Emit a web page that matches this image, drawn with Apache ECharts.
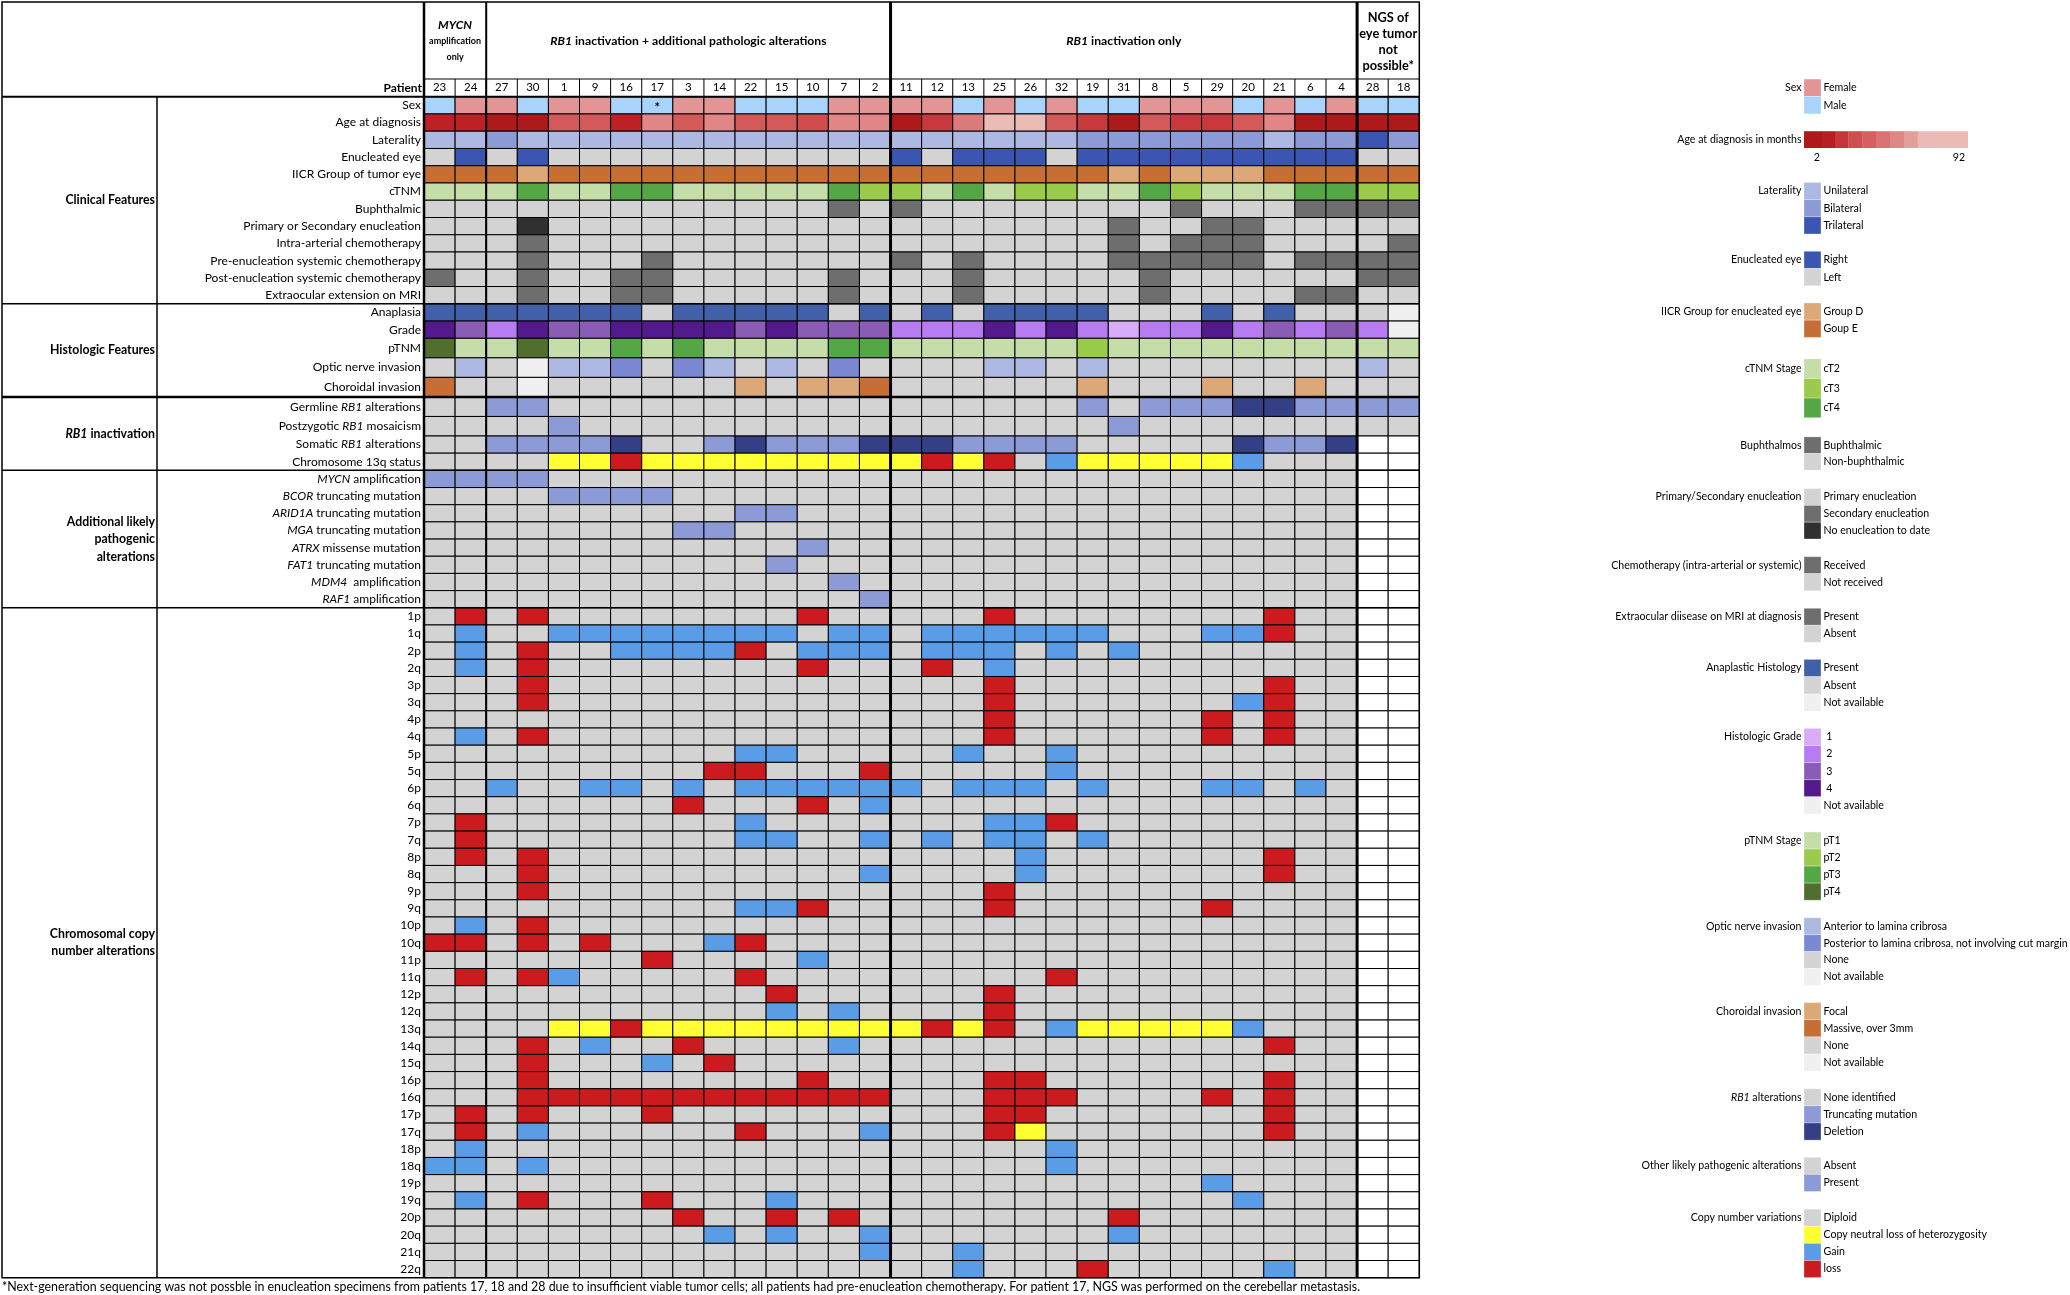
<!DOCTYPE html>
<html><head><meta charset="utf-8">
<script src="https://cdn.jsdelivr.net/npm/echarts@6/dist/echarts.min.js"></script>
<style>html,body{margin:0;padding:0;background:#fff}#c{width:2070px;height:1295px}</style>
</head><body><div id="c"></div>
<script>
// ================= DATA =================
const patients = ['23','24','27','30','1','9','16','17','3','14','22','15','10','7','2','11','12','13','25','26','32','19','31','8','5','29','20','21','6','4','28','18'];
const groupSizes = [2, 13, 15, 2];
const starredPatients = ['17'];

// one code per patient; '|' only separates the four patient groups
const sexRow          = 'MF|FMFFMMFFMMMFF|FFMFMFMMFFFMFMF|MM';
const ageMonths       = [7,7,3,3,21,21,7,33,21,33,21,21,19,33,33,3,13,31,78,82,22,13,3,22,13,13,22,33,3,3,3,3];
const lateralityRow   = 'UU|BUUUUUUUUUUUU|UUUUUUBBBBBBUBB|TB';
const enucleatedRow   = 'LR|LRLLLLLLLLLLL|RLRRRLRRRRRRRRR|LL';
const iicrRow         = 'EE|EDEEEEEEEEEEE|EEEEEEEDEDDDEEE|EE';
const ctnmRow         = '22|2422442222243|324233224322244|33';
const buphRow         = '00|0000000000010|100000000100011|11';
const enucTypeRow     = 'PP|PNPPPPPPPPPPP|PPPPPPPSPPSSPPP|PP';
const intraArtRow     = '00|0100000000000|000000010111000|01';
const preSystemicRow  = '00|0100010000000|101000011111011|11';
const postSystemicRow = '10|0100110000010|001000001000000|11';
const extraocularRow  = '00|0100110000010|001000001000011|00';
const anaplasiaRow    = 'PP|PPPPPAPPPPPAP|APAPPPPAAAPAPAA|AX';
const gradeRow        = '43|2433444434333|222424212242323|2X';
const ptnmRow         = '41|1411313111133|111111211111111|11';
const opticRow        = 'NA|NXAAPNPANANPN|NNNAANANNNNNNNN|AN';
const choroidRow      = 'MN|NXNNNNNNFNFFM|NNNNNNFNNNFNNFN|NN';
const germlineRow     = 'NN|TTNNNNNNNNNNN|NNNNNNTNTTTDDTT|TT';
const postzygoticRow  = 'NN|NNTNNNNNNNNNN|NNNNNNNTNNNNNNN|NN';
const somaticRow      = 'NN|TTTTDNNTDTTTD|DDTTTTNNNNNDTTD|WW';
const chr13Row        = '..|..YYLYYYYYYYY|YLYL.GYYYYYG...|--';
const mycnRow         = '11|1100000000000|000000000000000|--';
const bcorRow         = '00|0011110000000|000000000000000|--';
const arid1aRow       = '00|0000000011000|000000000000000|--';
const mgaRow          = '00|0000001100000|000000000000000|--';
const atrxRow         = '00|0000000000100|000000000000000|--';
const fat1Row         = '00|0000000001000|000000000000000|--';
const mdm4Row         = '00|0000000000010|000000000000000|--';
const raf1Row         = '00|0000000000001|000000000000000|--';

const cnvArms = ['1p','1q','2p','2q','3p','3q','4p','4q','5p','5q','6p','6q','7p','7q','8p','8q','9p','9q','10p','10q','11p','11q','12p','12q','13q','14q','15q','16p','16q','17p','17q','18p','18q','19p','19q','20p','20q','21q','22q'];
const cnvCalls = [
 '.L|.L........L..|...L........L..|--',
 '.G|..GGGGGGGG.GG|.GGGGGG...GGL..|--',
 '.G|.L..GGGGL.GGG|.GGG.G.G.......|--',
 '.G|.L........L..|.L.G...........|--',
 '..|.L...........|...L........L..|--',
 '..|.L...........|...L.......GL..|--',
 '..|.............|...L......L.L..|--',
 '.G|.L...........|...L......L.L..|--',
 '..|........GG...|..G..G.........|--',
 '..|.......LL...L|.....G.........|--',
 '..|G..GG.G.GGGGG|G.GGG.G...GG.G.|--',
 '..|......L...L.G|...............|--',
 '.L|........G....|...GGL.........|--',
 '.L|........GG..G|.G.GG.G........|--',
 '.L|.L...........|....G.......L..|--',
 '..|.L..........G|....G.......L..|--',
 '..|.L...........|...L...........|--',
 '..|........GGL..|...L......L....|--',
 '.G|.L...........|...............|--',
 'LL|.L.L...GL....|...............|--',
 '..|.....L....G..|...............|--',
 '.L|.LG.....L....|.....L.........|--',
 '..|.........L...|...L...........|--',
 '..|.........G.G.|...L...........|--',
 '..|..YYLYYYYYYYY|YLYL.GYYYYYG...|--',
 '..|.L.G..L....G.|............L..|--',
 '..|.L...G.L.....|...............|--',
 '..|.L........L..|...LL.......L..|--',
 '..|.LLLLLLLLLLLL|...LLL....L.L..|--',
 '.L|.L...L.......|...LL.......L..|--',
 '.L|.G......L...G|...LY.......L..|--',
 '.G|.............|.....G.........|--',
 'GG|.G...........|.....G.........|--',
 '..|.............|..........G....|--',
 '.G|.L...L...G...|...........G...|--',
 '..|......L..L.L.|.......L.......|--',
 '..|.......G.G..G|.......G.......|--',
 '..|............G|..G............|--',
 '..|.............|..G...L.....G..|--'
];

const sectionTitles = ['Clinical Features','Histologic Features','{i|RB1} inactivation','Additional likely\npathogenic\nalterations','Chromosomal copy\nnumber alterations'];
const sectionSizes = [12, 5, 4, 8, 39];
const ageLegendTicks = ['2', '92'];

// ================= STYLE =================
const FONT = 'Lato, "Open Sans", "DejaVu Sans", sans-serif';
const GREY = '#D3D3D3', NA = '#F0F0F0', WHITE = '#FFFFFF';
const sexColors = {F:'#E39494', M:'#A8D4FC'};
const latColors = {U:'#ADB9E3', B:'#8C9AD6', T:'#3A56B2'};
const eyeColors = {R:'#3A56B2', L:GREY};
const iicrColors = {D:'#DCA878', E:'#C66E33'};
const ctnmColors = {'2':'#C5DDA9','3':'#9BCB4A','4':'#55A645'};
const binColors = {'1':'#6E6E6E','0':GREY};
const enucColors = {P:GREY, S:'#6E6E6E', N:'#303030'};
const anaColors = {P:'#4260A8', A:GREY, X:NA};
const gradeColors = {'1':'#D8ACF6','2':'#B77BF2','3':'#8A5CB5','4':'#521A8C', X:NA};
const ptnmColors = {'1':'#C5DDA9','2':'#9BCB4A','3':'#55A645','4':'#506E2E'};
const opticColors = {A:'#ADB9E3', P:'#7B88D4', N:GREY, X:NA};
const choroidColors = {F:'#DCA878', M:'#C66E33', N:GREY, X:NA};
const rb1Colors = {N:GREY, T:'#8C9AD6', D:'#343F86', W:WHITE};
const cn13Colors = {'.':GREY, Y:'#FFFF33', G:'#5B9CE6', L:'#CC1B1F', '-':WHITE};
const otherColors = {'0':GREY, '1':'#8C9AD6', '-':WHITE};
const cnvColors = cn13Colors;
const ageStops = [[4,'#AE191C'],[9,'#BD2126'],[16,'#C7393C'],[20,'#D14C4C'],[26,'#D45A5A'],[32,'#DC7B7B'],[45,'#E08686'],[120,'#EBBBB6']];
const ageColor = a => ageStops.find(s => a <= s[0])[1];
const ageLegendSteps = [['#B0181C',17.7],['#B71F23',13.3],['#C4373A',13.3],['#CF4E4F',14],['#D65F5F',13.7],['#DA7373',14],['#DE8786',14],['#E39F9B',13.7],['#EBBAB5',50]];

// layout
const GL = 424, GR = 1419.3, TOP = 2, HEADLINE = 79, BOTTOM = 1277.7, SECTX = 157;
const bandRowCounts = [14, 5, 49];
const bandEdges = [96.7, 338.3, 436, BOTTOM];
const cw = (GR - GL) / patients.length;

// ================= BUILD =================
const split = s => s.replace(/\|/g, '').split('');
const mapRow = (s, pal) => split(s).map(k => pal[k]);
const rows = [
  ['Sex', mapRow(sexRow, sexColors)],
  ['Age at diagnosis', ageMonths.map(ageColor)],
  ['Laterality', mapRow(lateralityRow, latColors)],
  ['Enucleated eye', mapRow(enucleatedRow, eyeColors)],
  ['IICR Group of tumor eye', mapRow(iicrRow, iicrColors)],
  ['cTNM', mapRow(ctnmRow, ctnmColors)],
  ['Buphthalmic', mapRow(buphRow, binColors)],
  ['Primary or Secondary enucleation', mapRow(enucTypeRow, enucColors)],
  ['Intra-arterial chemotherapy', mapRow(intraArtRow, binColors)],
  ['Pre-enucleation systemic chemotherapy', mapRow(preSystemicRow, binColors)],
  ['Post-enucleation systemic chemotherapy', mapRow(postSystemicRow, binColors)],
  ['Extraocular extension on MRI', mapRow(extraocularRow, binColors)],
  ['Anaplasia', mapRow(anaplasiaRow, anaColors)],
  ['Grade', mapRow(gradeRow, gradeColors)],
  ['pTNM', mapRow(ptnmRow, ptnmColors)],
  ['Optic nerve invasion', mapRow(opticRow, opticColors)],
  ['Choroidal invasion', mapRow(choroidRow, choroidColors)],
  ['Germline {i|RB1} alterations', mapRow(germlineRow, rb1Colors)],
  ['Postzygotic {i|RB1} mosaicism', mapRow(postzygoticRow, rb1Colors)],
  ['Somatic {i|RB1} alterations', mapRow(somaticRow, rb1Colors)],
  ['Chromosome 13q status', mapRow(chr13Row, cn13Colors)],
  ['{i|MYCN} amplification', mapRow(mycnRow, otherColors)],
  ['{i|BCOR} truncating mutation', mapRow(bcorRow, otherColors)],
  ['{i|ARID1A} truncating mutation', mapRow(arid1aRow, otherColors)],
  ['{i|MGA} truncating mutation', mapRow(mgaRow, otherColors)],
  ['{i|ATRX} missense mutation', mapRow(atrxRow, otherColors)],
  ['{i|FAT1} truncating mutation', mapRow(fat1Row, otherColors)],
  ['{i|MDM4}  amplification', mapRow(mdm4Row, otherColors)],
  ['{i|RAF1} amplification', mapRow(raf1Row, otherColors)]
].concat(cnvArms.map((a, i) => [a, mapRow(cnvCalls[i], cnvColors)]));

rows.forEach(r => { if (r[1].length !== 32 || r[1].some(c => !c)) console.error('bad row', r[0]); });

function rowTop(i) {
  let start = 0;
  for (let b = 0; b < bandRowCounts.length; b++) {
    const n = bandRowCounts[b];
    if (i < start + n || b === bandRowCounts.length - 1) {
      const h = (bandEdges[b + 1] - bandEdges[b]) / n;
      return bandEdges[b] + (i - start) * h;
    }
    start += n;
  }
}

const grids = [], xAxes = [], yAxes = [], series = [];
let startRow = 0;
bandRowCounts.forEach((n, b) => {
  const bandRows = rows.slice(startRow, startRow + n);
  grids.push({left: GL, top: bandEdges[b], width: GR - GL, height: bandEdges[b + 1] - bandEdges[b]});
  xAxes.push({
    type: 'category', gridIndex: b, data: patients, position: 'top', show: b === 0,
    axisLine: {show: false}, axisTick: {show: false}, splitLine: {show: false},
    axisLabel: {interval: 0, margin: 3, fontSize: 11.5, color: '#000', fontFamily: FONT}
  });
  yAxes.push({
    type: 'category', gridIndex: b, inverse: true, data: bandRows.map(r => r[0]),
    axisLine: {show: false}, axisTick: {show: false}, splitLine: {show: false},
    axisLabel: {interval: 0, margin: 3, fontSize: 12, color: '#000', fontFamily: FONT,
      rich: {i: {fontStyle: 'italic', fontSize: 12, fontFamily: FONT, color: '#000'}}}
  });
  const data = [], fills = [], marks = [];
  bandRows.forEach((r, yi) => r[1].forEach((c, xi) => {
    data.push([xi, yi]); fills.push(c);
    marks.push(r[0] === 'Sex' && starredPatients.includes(patients[xi]) ? '*' : '');
  }));
  series.push({
    type: 'custom', xAxisIndex: b, yAxisIndex: b, data, silent: true, animation: false,
    renderItem: (p, api) => {
      const c = api.coord([api.value(0), api.value(1)]);
      const s = api.size([1, 1]);
      const rect = {type: 'rect', shape: {x: c[0] - s[0] / 2, y: c[1] - s[1] / 2, width: s[0], height: s[1]},
        style: {fill: fills[p.dataIndex], stroke: '#000', lineWidth: 1}};
      const m = marks[p.dataIndex];
      if (!m) return rect;
      return {type: 'group', children: [rect, {type: 'text', x: c[0], y: c[1] + 2,
        style: {text: m, fill: '#000', font: 'bold 13px ' + FONT, align: 'center', verticalAlign: 'middle', textAlign: 'center', textVerticalAlign: 'middle'}}]};
    }
  });
  startRow += n;
});

// ================= GRAPHICS (table frame, headers, legend) =================
const G = [];
const line = (x1, y1, x2, y2, w, col) => G.push({type: 'line', z: 100, silent: true,
  shape: {x1, y1, x2, y2}, style: {stroke: col || '#000', lineWidth: w}});
const text = (x, y, t, font, align, extra) => G.push({type: 'text', z: 101, silent: true, x, y,
  style: Object.assign({text: t, font, fill: '#000', align, textAlign: align, verticalAlign: 'middle', textVerticalAlign: 'middle'}, extra || {})});

// outer frame
G.push({type: 'rect', z: 100, silent: true, shape: {x: TOP, y: TOP, width: GR - TOP, height: BOTTOM - TOP}, style: {fill: 'none', stroke: '#000', lineWidth: 1.5}});
line(TOP, bandEdges[0], GR, bandEdges[0], 2);
line(GL, HEADLINE, GR, HEADLINE, 1);
line(GL, TOP, GL, BOTTOM, 2.5);
line(SECTX, bandEdges[0], SECTX, BOTTOM, 1.5);
const groupEdges = [];
groupSizes.reduce((acc, n) => { groupEdges.push(acc); return acc + n; }, 0);
for (let i = 1; i < patients.length; i++) line(GL + i * cw, HEADLINE, GL + i * cw, bandEdges[0], 1);
const groupLineW = [0, 2, 3, 3];
groupEdges.forEach((c, k) => { if (k > 0) line(GL + c * cw, TOP, GL + c * cw, BOTTOM, groupLineW[k]); });
const sectionLineW = [0, 1.5, 2.5, 1.5, 1.5];
let sr = 0;
sectionSizes.forEach((n, k) => {
  const y0 = rowTop(sr), y1 = rowTop(sr + n);
  if (k > 0) line(TOP, y0, GR, y0, sectionLineW[k]);
  text(155, (y0 + y1) / 2, sectionTitles[k], 'bold 12.3px ' + FONT, 'right',
    {lineHeight: 17.5, rich: {i: {fontStyle: 'italic', fontWeight: 'bold', fontSize: 12.3, fontFamily: FONT, lineHeight: 17.5}}});
  sr += n;
});
text(422, 88, 'Patient', 'bold 12px ' + FONT, 'right');

// group headers
const groupHeaderText = [
  '{bi|MYCN}\n{s|amplification}\n{s|only}',
  '{bi|RB1}{b| inactivation + additional pathologic alterations}',
  '{bi|RB1}{b| inactivation only}',
  '{n|NGS of}\n{n|eye tumor}\n{n|not}\n{n|possible*}'
];
const hdrRich = {
  bi: {fontStyle: 'italic', fontWeight: 'bold', fontSize: 12.2, fontFamily: FONT, lineHeight: 16},
  b: {fontWeight: 'bold', fontSize: 12.2, fontFamily: FONT, lineHeight: 16},
  s: {fontWeight: 'bold', fontSize: 9, fontFamily: FONT, lineHeight: 16},
  n: {fontWeight: 'bold', fontSize: 12.8, fontFamily: FONT, lineHeight: 16}
};
groupEdges.forEach((c, k) => {
  const x0 = GL + c * cw, x1 = x0 + groupSizes[k] * cw;
  text((x0 + x1) / 2, (TOP + HEADLINE) / 2 + 1, groupHeaderText[k], 'bold 12px ' + FONT, 'center', {rich: hdrRich, lineHeight: 16});
});

// footnote
text(2, 1287, '*Next-generation sequencing was not possble in enucleation specimens from patients 17, 18 and 28 due to insufficient viable tumor cells; all patients had pre-enucleation chemotherapy. For patient 17, NGS was performed on the cerebellar metastasis.', '12.4px ' + FONT, 'left');

// legend
const legendTitles = ['Sex','Laterality','Enucleated eye','IICR Group for enucleated eye','cTNM Stage','Buphthalmos','Primary/Secondary enucleation','Chemotherapy (intra-arterial or systemic)','Extraocular diisease on MRI at diagnosis','Anaplastic Histology','Histologic Grade','pTNM Stage','Optic nerve invasion','Choroidal invasion','{i|RB1} alterations','Other likely pathogenic alterations','Copy number variations'];
const legendItems = [
  [[sexColors.F,'Female'],[sexColors.M,'Male']],
  [[latColors.U,'Unilateral'],[latColors.B,'Bilateral'],[latColors.T,'Trilateral']],
  [[eyeColors.R,'Right'],[GREY,'Left']],
  [[iicrColors.D,'Group D'],[iicrColors.E,'Goup E']],
  [[ctnmColors['2'],'cT2'],[ctnmColors['3'],'cT3'],[ctnmColors['4'],'cT4']],
  [['#6E6E6E','Buphthalmic'],[GREY,'Non-buphthalmic']],
  [[GREY,'Primary enucleation'],['#6E6E6E','Secondary enucleation'],['#303030','No enucleation to date']],
  [['#6E6E6E','Received'],[GREY,'Not received']],
  [['#6E6E6E','Present'],[GREY,'Absent']],
  [[anaColors.P,'Present'],[GREY,'Absent'],[NA,'Not available']],
  [[gradeColors['1'],' 1'],[gradeColors['2'],' 2'],[gradeColors['3'],' 3'],[gradeColors['4'],' 4'],[NA,'Not available']],
  [[ptnmColors['1'],'pT1'],[ptnmColors['2'],'pT2'],[ptnmColors['3'],'pT3'],[ptnmColors['4'],'pT4']],
  [[opticColors.A,'Anterior to lamina cribrosa'],[opticColors.P,'Posterior to lamina cribrosa, not involving cut margin'],[GREY,'None'],[NA,'Not available']],
  [[choroidColors.F,'Focal'],[choroidColors.M,'Massive, over 3mm'],[GREY,'None'],[NA,'Not available']],
  [[GREY,'None identified'],[rb1Colors.T,'Truncating mutation'],[rb1Colors.D,'Deletion']],
  [[GREY,'Absent'],[otherColors['1'],'Present']],
  [[GREY,'Diploid'],[cnvColors.Y,'Copy neutral loss of heterozygosity'],[cnvColors.G,'Gain'],[cnvColors.L,'loss']]
];
const legendTop = [79.1,182.4,251.3,303.0,358.9,436.9,488.6,556.7,608.3,659.4,728.4,832.0,917.8,1002.6,1088.8,1157.3,1209.2];
const legendRowH = [17.4,17.2,17.2,17.2,19.6,16.6,16.8,17,17,17.3,17.1,17.05,16.9,17.15,17.1,17.1,17.1];
const LX = 1804, LW = 17, LFS = 10.6, LFONT = LFS + 'px ' + FONT;
legendTitles.forEach((t, k) => {
  const y0 = legendTop[k], h = legendRowH[k];
  text(1801.5, y0 + h / 2, t, LFONT, 'right', {rich: {i: {fontStyle: 'italic', fontSize: LFS, fontFamily: FONT}}});
  legendItems[k].forEach((it, j) => {
    G.push({type: 'rect', z: 100, silent: true, shape: {x: LX, y: y0 + j * h, width: LW, height: h}, style: {fill: it[0], stroke: 'rgba(255,255,255,0.5)', lineWidth: 0.6}});
    text(LX + LW + 2.5, y0 + j * h + h / 2, it[1], LFONT, 'left');
  });
});
// age gradient legend
text(1801.5, 139.6, 'Age at diagnosis in months', LFONT, 'right');
let ax = LX;
ageLegendSteps.forEach(s => {
  G.push({type: 'rect', z: 100, silent: true, shape: {x: ax, y: 131.2, width: s[1] + 0.3, height: 16.8}, style: {fill: s[0]}});
  ax += s[1];
});
text(1816.7, 157.5, ageLegendTicks[0], LFONT, 'center');
text(1959, 158, ageLegendTicks[1], LFONT, 'center');

const chart = echarts.init(document.getElementById('c'));
chart.setOption({
  animation: false,
  backgroundColor: '#fff',
  grid: grids, xAxis: xAxes, yAxis: yAxes, series,
  graphic: {elements: G}
});
</script></body></html>
